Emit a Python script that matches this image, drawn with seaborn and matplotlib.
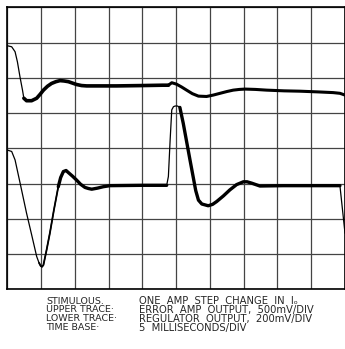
import numpy as np
import pandas as pd
import matplotlib
matplotlib.use("Agg")
import matplotlib.pyplot as plt
import seaborn as sns

# Upper trace (error amp output), in grid divisions
upper_x = [0.0, 0.13, 0.23, 0.30, 0.375, 0.45, 0.49, 0.57, 0.72, 0.87, 0.97, 1.07, 1.19, 1.31, 1.44, 1.56, 1.68, 1.81, 1.93, 2.05, 2.2, 2.35, 2.8, 3.24, 4.0, 4.6, 4.77, 4.87, 5.01, 5.16, 5.31, 5.48, 5.66, 5.9, 6.1, 6.3, 6.5, 6.69, 6.87, 7.04, 7.35, 7.68, 8.2, 8.67, 9.2, 9.65, 9.85, 10.0]
upper_y = [6.91, 6.88, 6.74, 6.45, 6.03, 5.65, 5.42, 5.35, 5.35, 5.42, 5.53, 5.65, 5.76, 5.84, 5.89, 5.92, 5.91, 5.89, 5.85, 5.81, 5.78, 5.77, 5.77, 5.77, 5.78, 5.79, 5.79, 5.86, 5.82, 5.74, 5.65, 5.55, 5.48, 5.47, 5.51, 5.56, 5.61, 5.65, 5.67, 5.68, 5.67, 5.65, 5.63, 5.62, 5.60, 5.58, 5.56, 5.51]

# Lower trace (regulator output), in grid divisions
lower_x = [0.0, 0.13, 0.23, 0.40, 0.57, 0.72, 0.87, 0.94, 0.99, 1.03, 1.07, 1.16, 1.26, 1.38, 1.51, 1.58, 1.66, 1.74, 1.81, 1.93, 2.05, 2.17, 2.3, 2.4, 2.5, 2.67, 2.84, 3.04, 4.0, 4.72, 4.77, 4.82, 4.87, 4.92, 4.97, 5.04, 5.11, 5.21, 5.41, 5.58, 5.66, 5.76, 5.95, 6.08, 6.2, 6.4, 6.59, 6.79, 6.99, 7.1, 7.24, 7.48, 8.17, 9.0, 9.85, 10.0]
lower_y = [3.95, 3.91, 3.67, 2.92, 2.16, 1.55, 0.93, 0.75, 0.66, 0.64, 0.69, 1.1, 1.59, 2.25, 2.91, 3.17, 3.34, 3.37, 3.31, 3.21, 3.1, 2.98, 2.89, 2.86, 2.84, 2.87, 2.91, 2.94, 2.95, 2.95, 3.2, 4.2, 5.09, 5.18, 5.2, 5.2, 5.16, 4.71, 3.67, 2.8, 2.53, 2.42, 2.37, 2.41, 2.49, 2.65, 2.82, 2.97, 3.05, 3.05, 3.01, 2.93, 2.94, 2.94, 2.94, 1.59]

# Caption
caption_labels = ["STIMULOUS.", "UPPER TRACE\u00b7", "LOWER TRACE\u00b7", "TIME BASE\u00b7"]
caption_values = ["ONE  AMP  STEP  CHANGE  IN  I\u2092",
                  "ERROR  AMP  OUTPUT,  500mV/DIV",
                  "REGULATOR  OUTPUT,  200mV/DIV",
                  "5  MILLISECONDS/DIV"]

sns.set_style("white")
plt.rcParams['font.family'] = ['DejaVu Sans']

fig = plt.figure(figsize=(3.45, 3.49), dpi=100)
ax = fig.add_axes([7.3 / 345, 1 - 289.3 / 349, 1 - 7.3 / 345, (289.3 - 7.3) / 349])

up = pd.DataFrame({"x": upper_x, "y": upper_y})
lo = pd.DataFrame({"x": lower_x, "y": lower_y})

# thin (fast-moving) trace everywhere
sns.lineplot(data=up, x="x", y="y", ax=ax, color="black", lw=0.9, sort=False)
sns.lineplot(data=lo, x="x", y="y", ax=ax, color="black", lw=0.9, sort=False)

# thick (slow-moving) portions
thick_up = up[(up.x >= 0.49) & (up.x <= 4.77)]
thick_up2 = up[(up.x >= 4.77)]
sns.lineplot(data=thick_up, x="x", y="y", ax=ax, color="black", lw=2.6, sort=False)
sns.lineplot(data=thick_up2, x="x", y="y", ax=ax, color="black", lw=2.2, sort=False)
thick_lo0 = lo[(lo.x >= 0.9) & (lo.x <= 1.51)]
thick_lo1 = lo[(lo.x >= 1.51) & (lo.x <= 4.72)]
thick_lo2 = lo[(lo.x >= 5.11) & (lo.x <= 9.85)]
sns.lineplot(data=thick_lo0, x="x", y="y", ax=ax, color="black", lw=1.3, sort=False)
sns.lineplot(data=thick_lo1, x="x", y="y", ax=ax, color="black", lw=2.4, sort=False)
sns.lineplot(data=thick_lo2, x="x", y="y", ax=ax, color="black", lw=2.4, sort=False)

ax.set_xlim(0, 10)
ax.set_ylim(0, 8)
ax.set_xticks(np.arange(0, 11, 1))
ax.set_yticks(np.arange(0, 9, 1))
ax.grid(True, color="#444444", lw=0.9)
ax.tick_params(left=False, bottom=False, labelleft=False, labelbottom=False)
ax.set_xlabel("")
ax.set_ylabel("")
for s in ax.spines.values():
    s.set_color("black")
    s.set_linewidth(1.2)
ax.set_axisbelow(True)

y_mid = 1 - 314.2 / 349
fig.text(46 / 345, y_mid, "\n".join(caption_labels), fontsize=6.8,
         linespacing=0.96, va="center", ha="left")
fig.text(139 / 345, y_mid, "\n".join(caption_values), fontsize=7.2,
         linespacing=0.89, va="center", ha="left")

fig.savefig("out.png", dpi=100)
